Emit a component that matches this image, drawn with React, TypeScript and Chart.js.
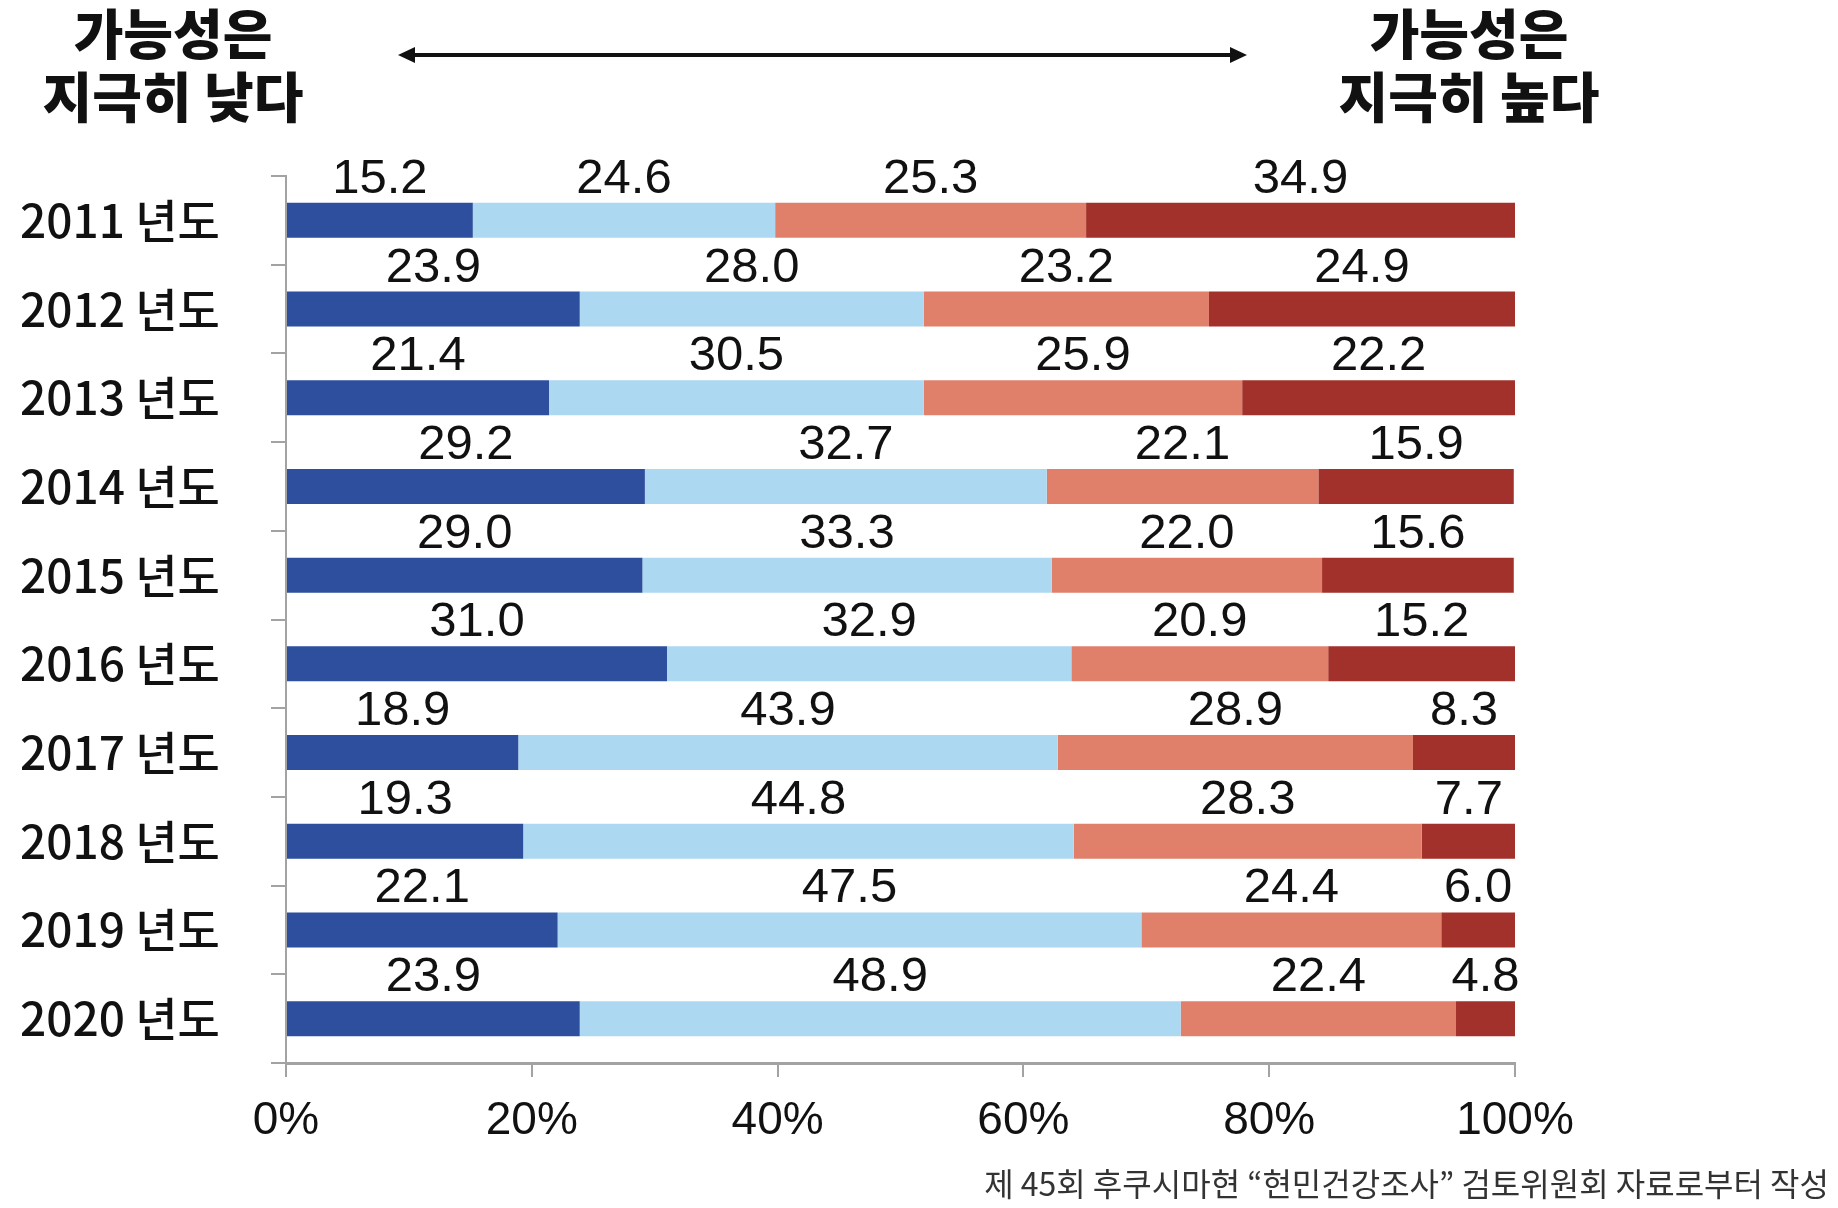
import { useEffect, useRef } from "react";
import { Chart, registerables } from "chart.js";

Chart.register(...registerables);

const years = ["2011 년도", "2012 년도", "2013 년도", "2014 년도", "2015 년도", "2016 년도", "2017 년도", "2018 년도", "2019 년도", "2020 년도"];
const veryLow = [15.2, 23.9, 21.4, 29.2, 29.0, 31.0, 18.9, 19.3, 22.1, 23.9];
const low = [24.6, 28.0, 30.5, 32.7, 33.3, 32.9, 43.9, 44.8, 47.5, 48.9];
const high = [25.3, 23.2, 25.9, 22.1, 22.0, 20.9, 28.9, 28.3, 24.4, 22.4];
const veryHigh = [34.9, 24.9, 22.2, 15.9, 15.6, 15.2, 8.3, 7.7, 6.0, 4.8];
const seriesNames = ["지극히 낮다", "낮다", "높다", "지극히 높다"];
const xMin = 0;
const xMax = 100;
const xStep = 20;
const headerLeft = ["가능성은", "지극히 낮다"];
const headerRight = ["가능성은", "지극히 높다"];
const footnote = "제 45회 후쿠시마현 “현민건강조사” 검토위원회 자료로부터 작성";

const COLORS = ["#2d4f9e", "#acd8f1", "#e0806b", "#a3312b"];
const AXIS = "#a3a3a3";
const NUM_FONT = "'Liberation Sans', Arial, sans-serif";
const KR_FONT = "'Noto Sans CJK KR', 'Noto Sans', sans-serif";

const valueLabels = {
  id: "valueLabels",
  afterDatasetsDraw(chart: any) {
    const ctx = chart.ctx;
    ctx.save();
    ctx.font = `49px ${NUM_FONT}`;
    ctx.fillStyle = "#111";
    ctx.textAlign = "center";
    ctx.textBaseline = "alphabetic";
    chart.data.datasets.forEach((ds: any, di: number) => {
      const meta = chart.getDatasetMeta(di);
      meta.data.forEach((el: any, i: number) => {
        const p = el.getProps(["x", "y", "base", "height"], true);
        const cx = (p.x + p.base) / 2;
        const ty = p.y - p.height / 2 - 10;
        ctx.fillText(Number(ds.data[i]).toFixed(1), cx, ty);
      });
    });
    ctx.restore();
  },
};

const header = {
  id: "header",
  afterDraw(chart: any) {
    const ctx = chart.ctx;
    ctx.save();
    ctx.fillStyle = "#111";
    ctx.textAlign = "center";
    ctx.textBaseline = "middle";
    ctx.font = `900 54px ${KR_FONT}`;
    ctx.fillText(headerLeft[0], 173, 34);
    ctx.fillText(headerLeft[1], 173, 97);
    ctx.fillText(headerRight[0], 1469, 34);
    ctx.fillText(headerRight[1], 1469, 97);

    // double-headed arrow
    const y = 55;
    const x1 = 398;
    const x2 = 1247;
    ctx.strokeStyle = "#111";
    ctx.lineWidth = 4;
    ctx.beginPath();
    ctx.moveTo(x1 + 14, y);
    ctx.lineTo(x2 - 14, y);
    ctx.stroke();
    ctx.beginPath();
    ctx.moveTo(x1, y);
    ctx.lineTo(x1 + 17, y - 8);
    ctx.lineTo(x1 + 17, y + 8);
    ctx.closePath();
    ctx.fill();
    ctx.beginPath();
    ctx.moveTo(x2, y);
    ctx.lineTo(x2 - 17, y - 8);
    ctx.lineTo(x2 - 17, y + 8);
    ctx.closePath();
    ctx.fill();

    ctx.fillStyle = "#333";
    ctx.textAlign = "right";
    ctx.font = `32px ${KR_FONT}`;
    ctx.fillText(footnote, 1829, 1184);
    ctx.restore();
  },
};

export default function App() {
  const ref = useRef<HTMLCanvasElement | null>(null);

  useEffect(() => {
    if (!ref.current) return;
    const series = [veryLow, low, high, veryHigh];
    const chart = new Chart(ref.current, {
      type: "bar",
      data: {
        labels: years,
        datasets: series.map((d, i) => ({
          label: seriesNames[i],
          data: d,
          backgroundColor: COLORS[i],
          borderWidth: 0,
          barPercentage: 0.395,
          categoryPercentage: 1,
        })),
      },
      options: {
        indexAxis: "y",
        responsive: false,
        maintainAspectRatio: false,
        animation: false,
        layout: { padding: { left: 20, top: 176, right: 323, bottom: 0 } },
        plugins: {
          legend: { display: false },
          tooltip: { enabled: false },
          title: { display: false },
        },
        scales: {
          x: {
            stacked: true,
            min: xMin,
            max: xMax,
            ticks: {
              stepSize: xStep,
              callback: (v: any) => `${v}%`,
              font: { family: NUM_FONT, size: 46 },
              color: "#111",
              padding: 17,
              maxRotation: 0,
            },
            grid: {
              drawOnChartArea: false,
              drawTicks: true,
              tickLength: 14,
              color: AXIS,
              lineWidth: 2,
            },
            border: { color: AXIS, width: 3 },
            afterFit: (s: any) => {
              s.height = 145;
            },
          },
          y: {
            stacked: true,
            offset: true,
            ticks: {
              font: { family: KR_FONT, size: 46, weight: 500 },
              color: "#111",
              crossAlign: "far",
            },
            grid: {
              offset: true,
              drawOnChartArea: false,
              drawTicks: true,
              tickLength: 15,
              color: AXIS,
              lineWidth: 2,
            },
            border: { color: AXIS, width: 2 },
            afterFit: (s: any) => {
              s.width = 266;
            },
          },
        },
      },
      plugins: [valueLabels, header],
    } as any);
    return () => chart.destroy();
  }, []);

  return (
    <div style={{ position: "fixed", left: 0, top: 0, width: 1838, height: 1208, background: "#fff" }}>
      <canvas ref={ref} width={1838} height={1208} style={{ display: "block", width: 1838, height: 1208 }} />
    </div>
  );
}
